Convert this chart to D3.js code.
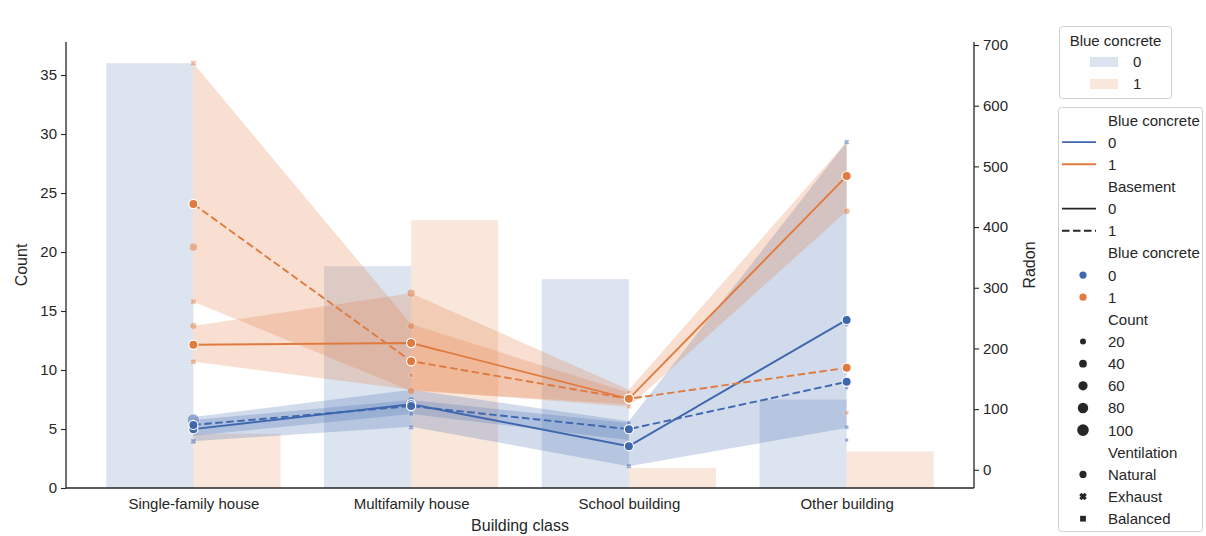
<!DOCTYPE html>
<html>
<head>
<meta charset="utf-8">
<script src="https://cdn.jsdelivr.net/npm/d3@7"></script>
<style>
  body { margin: 0; background: #fff; }
  svg { display: block; font-family: "Liberation Sans", Arial, sans-serif; }
  .tick text { fill: #262626; font-size: 15px; }
  .domain, .tick line { stroke: #262626; }
</style>
</head>
<body>
<svg id="chart" width="1206" height="536"></svg>
<script>
// ---- data ----
const categories = ["Single-family house", "Multifamily house", "School building", "Other building"];

// bar counts per building class, by blue concrete 0 / 1
const countConcrete0 = [36, 18.8, 17.7, 7.5];
const countConcrete1 = [4.6, 22.7, 1.7, 3.1];

// mean radon per building class, with confidence limits
const radonC0B0 = [67, 108, 39, 247];
const radonC0B0Lo = [47, 71, 6, 69];
const radonC0B0Hi = [87, 132, 80, 540];

const radonC0B1 = [74, 105, 67, 145];
const radonC0B1Lo = [56, 92, 49, null];
const radonC0B1Hi = [82, 115, 77, null];

const radonC1B0 = [206, 209, 117, 484];
const radonC1B0Lo = [178, 132, 104, 426];
const radonC1B0Hi = [237, 291, 132, 540];

const radonC1B1 = [438, 179, 117, 168];
const radonC1B1Lo = [277, 130, 108, null];
const radonC1B1Hi = [670, 240, 127, null];

// individual radon observations
const pointCategory    = [0, 0, 0, 0, 0, 0, 0,  1, 1, 1, 1, 1, 1, 1,  2, 2, 2, 2,  3, 3, 3, 3, 3, 3, 3];
const pointConcrete    = [1, 1, 1, 1, 1, 0, 0,  1, 1, 1, 1, 0, 0, 0,  1, 1, 0, 0,  0, 1, 0, 0, 1, 0, 0];
const pointRadon       = [670, 367, 277, 237, 178, 82, 47,  291, 237, 156, 130, 115, 92, 70,  127, 104, 77, 6,  540, 426, 239, 135, 94, 70, 49];
const pointCount       = [20, 45, 20, 30, 20, 110, 20,  45, 35, 15, 40, 30, 15, 15,  10, 10, 15, 15,  15, 25, 10, 10, 10, 10, 10];
const pointVentilation = ["Exhaust", "Natural", "Exhaust", "Natural", "Exhaust", "Natural", "Exhaust",
                          "Natural", "Natural", "Balanced", "Natural", "Natural", "Balanced", "Exhaust",
                          "Exhaust", "Exhaust", "Balanced", "Exhaust",
                          "Exhaust", "Natural", "Balanced", "Balanced", "Exhaust", "Exhaust", "Balanced"];

const countTicks = [0, 5, 10, 15, 20, 25, 30, 35];
const radonTicks = [0, 100, 200, 300, 400, 500, 600, 700];
const sizeLegendValues = [20, 40, 60, 80, 100];
const ventilationLevels = ["Natural", "Exhaust", "Balanced"];

// ---- layout ----
const blue = "#3f67ae";
const orange = "#e07b3f";
const hueColor = [blue, orange];
const dashPattern = "7.5,3.5";
const plotLeft = 66, plotRight = 974, plotTop = 42, plotBottom = 488;

const svg = d3.select("#chart");
svg.append("rect").attr("width", 1206).attr("height", 536).attr("fill", "#fff");

const x = d3.scalePoint().domain(categories).range([plotLeft, plotRight]).padding(0.585);
const step = x.step();
const yCount = d3.scaleLinear().domain([0, 37.8]).range([plotBottom, plotTop]);
const yRadon = d3.scaleLinear().domain([-30, 705]).range([plotBottom, plotTop]);
const sizeArea = d3.scaleLinear().domain([20, 100]).range([28, 105]);
const radiusOf = c => Math.sqrt(Math.max(10, sizeArea(c)) / Math.PI);

// bars
const barW = step * 0.4;
const bars = svg.append("g");
[countConcrete0, countConcrete1].forEach((vals, h) => {
  bars.selectAll(null).data(categories).join("rect")
    .attr("x", (d) => h === 0 ? x(d) - barW : x(d))
    .attr("y", (d, i) => yCount(vals[i]))
    .attr("width", barW)
    .attr("height", (d, i) => yCount(0) - yCount(vals[i]))
    .attr("fill", hueColor[h])
    .attr("fill-opacity", 0.18);
});

// confidence bands
const series = [
  { hue: 0, dash: null, mean: radonC0B0, lo: radonC0B0Lo, hi: radonC0B0Hi },
  { hue: 1, dash: null, mean: radonC1B0, lo: radonC1B0Lo, hi: radonC1B0Hi },
  { hue: 0, dash: dashPattern, mean: radonC0B1, lo: radonC0B1Lo, hi: radonC0B1Hi },
  { hue: 1, dash: dashPattern, mean: radonC1B1, lo: radonC1B1Lo, hi: radonC1B1Hi }
];
const bandG = svg.append("g");
series.forEach(s => {
  const area = d3.area()
    .defined((d, i) => s.lo[i] != null && s.hi[i] != null)
    .x(d => x(d))
    .y0((d, i) => yRadon(s.lo[i]))
    .y1((d, i) => yRadon(s.hi[i]));
  bandG.append("path").datum(categories)
    .attr("d", area)
    .attr("fill", hueColor[s.hue])
    .attr("fill-opacity", 0.24);
});

// filled "X" marker
function xMarker(r) {
  const t = r * 0.42, a = r;
  const pts = [[-t, -a], [t, -a], [t, -t], [a, -t], [a, t], [t, t], [t, a], [-t, a], [-t, t], [-a, t], [-a, -t], [-t, -t]];
  const c = Math.SQRT1_2;
  return "M" + pts.map(([px, py]) => [(px - py) * c, (px + py) * c].map(v => v.toFixed(2)).join(",")).join("L") + "Z";
}
function markerPath(kind, r) {
  if (kind === "Exhaust") return xMarker(r * 1.05);
  if (kind === "Balanced") return d3.symbol(d3.symbolSquare, Math.pow(r * 1.6, 2))();
  return d3.symbol(d3.symbolCircle, Math.PI * r * r)();
}

// individual observations
const ptG = svg.append("g").attr("opacity", 0.5);
pointRadon.forEach((v, i) => {
  ptG.append("path")
    .attr("transform", `translate(${x(categories[pointCategory[i]])},${yRadon(v)})`)
    .attr("d", markerPath(pointVentilation[i], radiusOf(pointCount[i])))
    .attr("fill", hueColor[pointConcrete[i]])
    .attr("stroke", "#fff")
    .attr("stroke-width", 0.6);
});

// mean lines
const lineG = svg.append("g");
series.forEach(s => {
  const line = d3.line().x(d => x(d)).y((d, i) => yRadon(s.mean[i]));
  lineG.append("path").datum(categories)
    .attr("d", line)
    .attr("fill", "none")
    .attr("stroke", hueColor[s.hue])
    .attr("stroke-width", 1.9)
    .attr("stroke-dasharray", s.dash);
  lineG.selectAll(null).data(categories).join("circle")
    .attr("cx", d => x(d))
    .attr("cy", (d, i) => yRadon(s.mean[i]))
    .attr("r", 4.6)
    .attr("fill", hueColor[s.hue])
    .attr("stroke", "#fff")
    .attr("stroke-width", 1.2);
});

// axes
const axL = svg.append("g").attr("transform", `translate(${plotLeft},0)`)
  .call(d3.axisLeft(yCount).tickValues(countTicks).tickSize(5).tickPadding(4).tickSizeOuter(0));
const axR = svg.append("g").attr("transform", `translate(${plotRight},0)`)
  .call(d3.axisRight(yRadon).tickValues(radonTicks).tickSize(5).tickPadding(4).tickSizeOuter(0));
const axB = svg.append("g").attr("transform", `translate(0,${plotBottom})`)
  .call(d3.axisBottom(x).tickSize(0).tickPadding(10).tickSizeOuter(0));
[axL, axR, axB].forEach(g => {
  g.selectAll(".tick text").attr("font-family", "Liberation Sans, Arial, sans-serif");
  g.select(".domain").attr("stroke-width", 1.3);
  g.selectAll(".tick line").attr("stroke-width", 1.1);
});
axL.select(".domain").attr("d", `M0,${plotTop}V${plotBottom}`);
axR.select(".domain").attr("d", `M0,${plotTop}V${plotBottom}`);
axB.select(".domain").attr("d", `M${plotLeft},0H${plotRight}`);

svg.append("text").attr("x", (plotLeft + plotRight) / 2).attr("y", 531)
  .attr("text-anchor", "middle").attr("font-size", 16).attr("fill", "#262626").text("Building class");
svg.append("text").attr("transform", `translate(27,${(plotTop + plotBottom) / 2}) rotate(-90)`)
  .attr("text-anchor", "middle").attr("font-size", 16).attr("fill", "#262626").text("Count");
svg.append("text").attr("transform", `translate(1035,${(plotTop + plotBottom) / 2}) rotate(-90)`)
  .attr("text-anchor", "middle").attr("font-size", 16).attr("fill", "#262626").text("Radon");

// legend: bars
const lg1 = svg.append("g");
lg1.append("rect").attr("x", 1059.5).attr("y", 26.5).attr("width", 112).attr("height", 72)
  .attr("rx", 3).attr("fill", "#fff").attr("stroke", "#d0d0d0");
lg1.append("text").attr("x", 1115.5).attr("y", 46).attr("text-anchor", "middle")
  .attr("font-size", 15).attr("fill", "#262626").text("Blue concrete");
[0, 1].forEach(h => {
  const yy = 62 + h * 22;
  lg1.append("rect").attr("x", 1090).attr("y", yy - 5).attr("width", 28).attr("height", 10)
    .attr("fill", hueColor[h]).attr("fill-opacity", 0.18);
  lg1.append("text").attr("x", 1133).attr("y", yy + 5).attr("font-size", 15).attr("fill", "#262626").text(String(h));
});

// legend: lines and markers
const lg2 = svg.append("g");
lg2.append("rect").attr("x", 1058.5).attr("y", 107.5).attr("width", 144).attr("height", 424)
  .attr("rx", 3).attr("fill", "#fff").attr("stroke", "#d0d0d0");
const rows = [];
rows.push({ label: "Blue concrete" });
[0, 1].forEach(h => rows.push({ label: String(h), kind: "line", color: hueColor[h] }));
rows.push({ label: "Basement" });
rows.push({ label: "0", kind: "line", color: "#262626" });
rows.push({ label: "1", kind: "line", color: "#262626", dash: dashPattern });
rows.push({ label: "Blue concrete" });
[0, 1].forEach(h => rows.push({ label: String(h), kind: "marker", shape: "Natural", color: hueColor[h], r: 3.6 }));
rows.push({ label: "Count" });
sizeLegendValues.forEach(v => rows.push({ label: String(v), kind: "marker", shape: "Natural", color: "#262626", r: radiusOf(v) }));
rows.push({ label: "Ventilation" });
ventilationLevels.forEach(v => rows.push({ label: v, kind: "marker", shape: v, color: "#262626", r: 3.6 }));

rows.forEach((row, i) => {
  const yy = 120 + i * 22.15;
  lg2.append("text").attr("x", 1108).attr("y", yy + 5.5).attr("font-size", 15).attr("fill", "#262626").text(row.label);
  if (row.kind === "line") {
    lg2.append("line").attr("x1", 1062).attr("x2", 1096).attr("y1", yy).attr("y2", yy)
      .attr("stroke", row.color).attr("stroke-width", 1.9).attr("stroke-dasharray", row.dash || null);
  } else if (row.kind === "marker") {
    lg2.append("path").attr("transform", `translate(1083,${yy})`)
      .attr("d", markerPath(row.shape, row.r)).attr("fill", row.color);
  }
});
</script>
</body>
</html>
